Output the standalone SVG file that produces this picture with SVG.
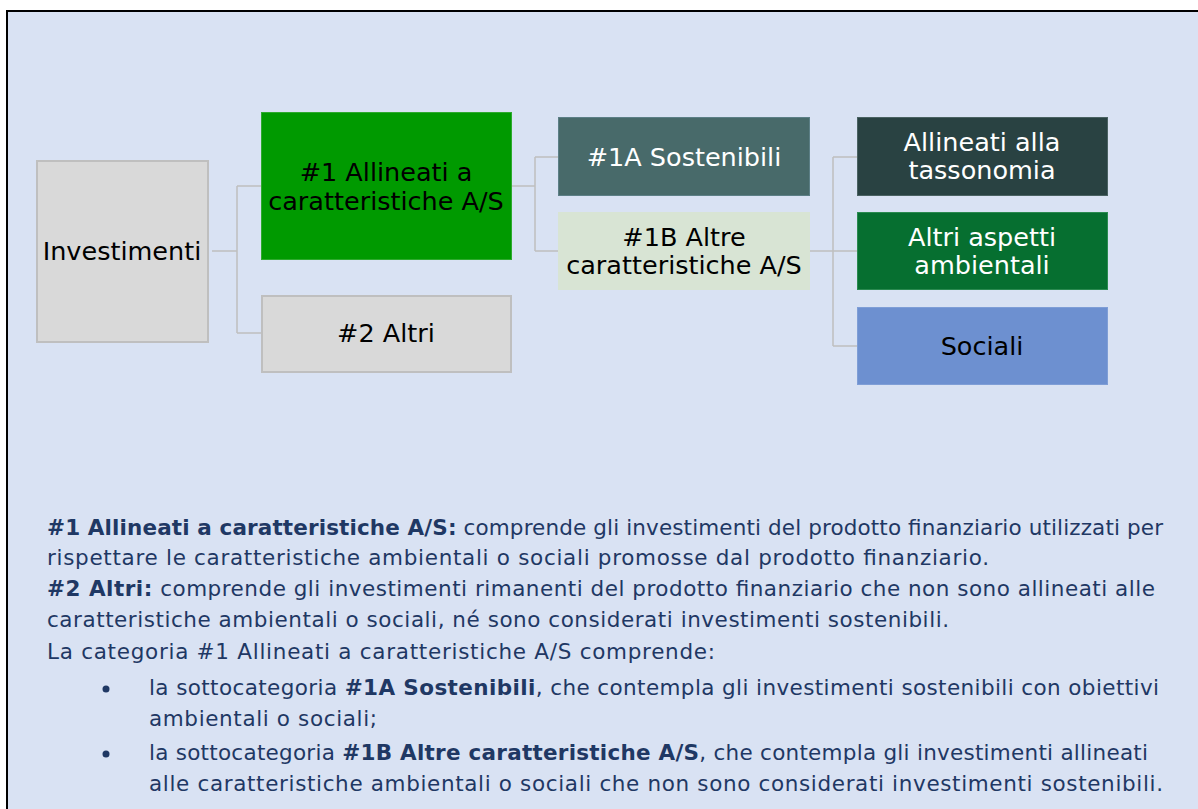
<svg xmlns="http://www.w3.org/2000/svg" width="1198" height="809" viewBox="0 0 1198 809">
<style>
.node text{font-family:"DejaVu Sans",sans-serif;font-size:25.5px;text-anchor:middle}
.dark{fill:#000}
.light{fill:#fff}
.conn{fill:none;stroke:#BFBFBF;stroke-width:1.5}
.body{font-family:"DejaVu Sans",sans-serif;font-size:21.5px;fill:#1F3864}
.b{font-weight:bold}
</style>
<rect x="0" y="0" width="1198" height="809" fill="#fff"/>
<rect x="7" y="11" width="1200" height="810" fill="#D9E2F3" stroke="#000" stroke-width="2"/>
<g id="connectors" class="conn">
<path d="M212 251H237M237 186V333M237 186H261M237 333H261"/>
<path d="M512 186H535M535 157V251M535 157H559M535 251H559"/>
<path d="M810 251H833M833 157V346M833 157H857M833 251H857M833 346H857"/>
</g>
<g id="investimenti" class="node">
<rect x="37" y="161" width="171" height="181" fill="#D9D9D9" stroke="#BFBFBF" stroke-width="2"/>
<text x="122" y="260" class="dark">Investimenti</text>
</g>
<g id="n1" class="node">
<rect x="261.5" y="112.5" width="250" height="147" fill="#009A00" stroke="#2EAA2E" stroke-width="1"/>
<text x="386" y="181" class="dark">#1 Allineati a</text>
<text x="386" y="210" class="dark">caratteristiche A/S</text>
</g>
<g id="n2" class="node">
<rect x="262" y="296" width="249" height="76" fill="#D9D9D9" stroke="#BFBFBF" stroke-width="2"/>
<text x="386" y="342" class="dark">#2 Altri</text>
</g>
<g id="n1a" class="node">
<rect x="558.5" y="117.5" width="251" height="78" fill="#486A6A" stroke="#5C7F86" stroke-width="1"/>
<text x="684" y="166" class="light">#1A Sostenibili</text>
</g>
<g id="n1b" class="node">
<rect x="558.5" y="212.5" width="251" height="77" fill="#D8E4D4" stroke="#D8E4D4" stroke-width="1"/>
<text x="684" y="246" class="dark">#1B Altre</text>
<text x="684" y="274" class="dark">caratteristiche A/S</text>
</g>
<g id="tassonomia" class="node">
<rect x="857.5" y="117.5" width="250" height="78" fill="#294242" stroke="#4A6262" stroke-width="1"/>
<text x="982" y="151" class="light">Allineati alla</text>
<text x="982" y="179" class="light">tassonomia</text>
</g>
<g id="ambientali" class="node">
<rect x="857.5" y="212.5" width="250" height="77" fill="#066F30" stroke="#2A8A50" stroke-width="1"/>
<text x="982" y="246" class="light">Altri aspetti</text>
<text x="982" y="274" class="light">ambientali</text>
</g>
<g id="sociali" class="node">
<rect x="857.5" y="307.5" width="250" height="77" fill="#6D90D0" stroke="#7F9ED6" stroke-width="1"/>
<text x="982" y="355" class="dark">Sociali</text>
</g>
<g id="legend" class="body">
<text x="47" y="535" textLength="1116"><tspan class="b">#1 Allineati a caratteristiche A/S:</tspan> comprende gli investimenti del prodotto finanziario utilizzati per</text>
<text x="47" y="565" textLength="942">rispettare le caratteristiche ambientali o sociali promosse dal prodotto finanziario.</text>
<text x="47" y="596" textLength="1108"><tspan class="b">#2 Altri:</tspan> comprende gli investimenti rimanenti del prodotto finanziario che non sono allineati alle</text>
<text x="47" y="627" textLength="902">caratteristiche ambientali o sociali, né sono considerati investimenti sostenibili.</text>
<text x="47" y="659" textLength="668">La categoria #1 Allineati a caratteristiche A/S comprende:</text>
<circle cx="106" cy="689" r="3.5"/>
<text x="149" y="695" textLength="1010">la sottocategoria <tspan class="b">#1A Sostenibili</tspan>, che contempla gli investimenti sostenibili con obiettivi</text>
<text x="149" y="726" textLength="228">ambientali o sociali;</text>
<circle cx="106" cy="754" r="3.5"/>
<text x="149" y="760" textLength="999">la sottocategoria <tspan class="b">#1B Altre caratteristiche A/S</tspan>, che contempla gli investimenti allineati</text>
<text x="149" y="791" textLength="1014">alle caratteristiche ambientali o sociali che non sono considerati investimenti sostenibili.</text>
</g>
</svg>
